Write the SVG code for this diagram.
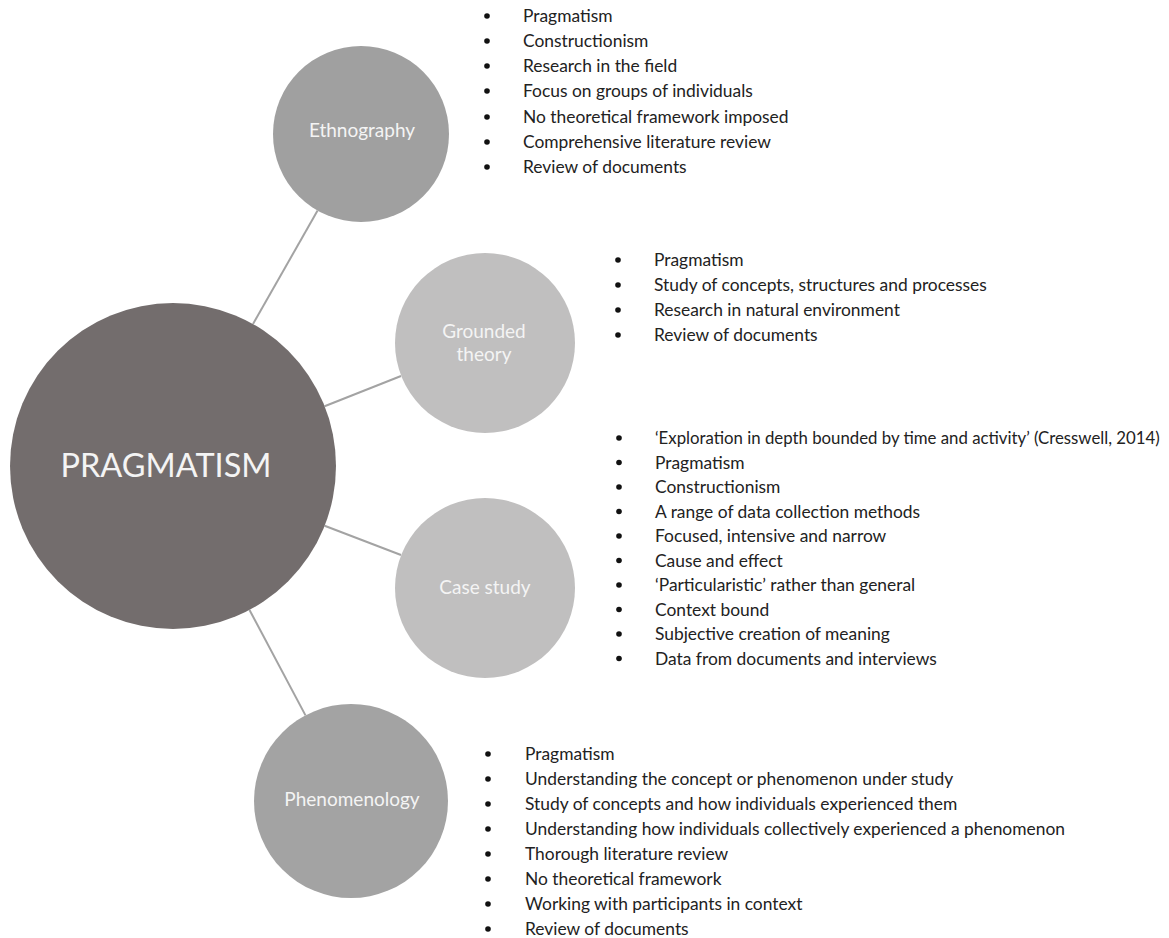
<svg xmlns="http://www.w3.org/2000/svg" width="1169" height="938" viewBox="0 0 1169 938">
<style>
.lbl{font-family:Lato,"Open Sans","Liberation Sans",sans-serif;fill:#f4f4f4;text-anchor:middle;font-size:19px}
.big{font-size:32.5px}
.it{font-family:Lato,"Open Sans","Liberation Sans",sans-serif;font-size:17.4px;fill:#222}
.sm{font-size:16.8px}
.bl{fill:#111}
.con{stroke:#a3a3a3;stroke-width:2;fill:none}
</style>
<rect width="1169" height="938" fill="#fff"/>
<g id="connectors">
<line class="con" x1="253" y1="324" x2="317.6" y2="210.6"/>
<line class="con" x1="324.6" y1="406.2" x2="401" y2="376"/>
<line class="con" x1="324.6" y1="525.8" x2="401" y2="555"/>
<line class="con" x1="249.5" y1="610" x2="305.5" y2="715.4"/>
</g>
<g id="pragmatism">
<circle cx="173" cy="466" r="163" fill="#736d6d"/>
<text class="lbl big" x="166" y="477">PRAGMATISM</text>
</g>
<g id="ethnography">
<circle cx="361" cy="134" r="88" fill="#a0a0a0"/>
<text class="lbl" x="362" y="137">Ethnography</text>
</g>
<g id="grounded-theory">
<circle cx="485" cy="343" r="90" fill="#c0bfbf"/>
<text class="lbl" x="484" y="338">Grounded</text>
<text class="lbl" x="484" y="361">theory</text>
</g>
<g id="case-study">
<circle cx="485" cy="588" r="90" fill="#c0bfbf"/>
<text class="lbl" x="485" y="594">Case study</text>
</g>
<g id="phenomenology">
<circle cx="351" cy="801" r="97" fill="#a3a3a3"/>
<text class="lbl" x="352" y="806">Phenomenology</text>
</g>
<g id="ethnography-list">
<circle class="bl" cx="487" cy="16" r="2.8"/><text class="it" x="523" y="22">Pragmatism</text>
<circle class="bl" cx="487" cy="41" r="2.8"/><text class="it" x="523" y="47">Constructionism</text>
<circle class="bl" cx="487" cy="66" r="2.8"/><text class="it" x="523" y="72">Research in the field</text>
<circle class="bl" cx="487" cy="91" r="2.8"/><text class="it" x="523" y="97">Focus on groups of individuals</text>
<circle class="bl" cx="487" cy="117" r="2.8"/><text class="it" x="523" y="123">No theoretical framework imposed</text>
<circle class="bl" cx="487" cy="142" r="2.8"/><text class="it" x="523" y="148">Comprehensive literature review</text>
<circle class="bl" cx="487" cy="167" r="2.8"/><text class="it" x="523" y="173">Review of documents</text>
</g>
<g id="grounded-list">
<circle class="bl" cx="618" cy="260" r="2.8"/><text class="it" x="654" y="266">Pragmatism</text>
<circle class="bl" cx="618" cy="285" r="2.8"/><text class="it" x="654" y="291">Study of concepts, structures and processes</text>
<circle class="bl" cx="618" cy="310" r="2.8"/><text class="it" x="654" y="316">Research in natural environment</text>
<circle class="bl" cx="618" cy="335" r="2.8"/><text class="it" x="654" y="341">Review of documents</text>
</g>
<g id="case-list">
<circle class="bl" cx="619" cy="438" r="2.8"/><text class="it sm" x="655" y="444">‘Exploration in depth bounded by time and activity’ (Cresswell, 2014)</text>
<circle class="bl" cx="619" cy="462.5" r="2.8"/><text class="it" x="655" y="468.5">Pragmatism</text>
<circle class="bl" cx="619" cy="487" r="2.8"/><text class="it" x="655" y="493">Constructionism</text>
<circle class="bl" cx="619" cy="511.5" r="2.8"/><text class="it" x="655" y="517.5">A range of data collection methods</text>
<circle class="bl" cx="619" cy="536" r="2.8"/><text class="it" x="655" y="542">Focused, intensive and narrow</text>
<circle class="bl" cx="619" cy="560.5" r="2.8"/><text class="it" x="655" y="566.5">Cause and effect</text>
<circle class="bl" cx="619" cy="585" r="2.8"/><text class="it" x="655" y="591">‘Particularistic’ rather than general</text>
<circle class="bl" cx="619" cy="609.5" r="2.8"/><text class="it" x="655" y="615.5">Context bound</text>
<circle class="bl" cx="619" cy="634" r="2.8"/><text class="it" x="655" y="640">Subjective creation of meaning</text>
<circle class="bl" cx="619" cy="658.5" r="2.8"/><text class="it" x="655" y="664.5">Data from documents and interviews</text>
</g>
<g id="phenomenology-list">
<circle class="bl" cx="488" cy="754" r="2.8"/><text class="it" x="525" y="760">Pragmatism</text>
<circle class="bl" cx="488" cy="779" r="2.8"/><text class="it" x="525" y="785">Understanding the concept or phenomenon under study</text>
<circle class="bl" cx="488" cy="804" r="2.8"/><text class="it" x="525" y="810">Study of concepts and how individuals experienced them</text>
<circle class="bl" cx="488" cy="829" r="2.8"/><text class="it" x="525" y="835">Understanding how individuals collectively experienced a phenomenon</text>
<circle class="bl" cx="488" cy="854" r="2.8"/><text class="it" x="525" y="860">Thorough literature review</text>
<circle class="bl" cx="488" cy="879" r="2.8"/><text class="it" x="525" y="885">No theoretical framework</text>
<circle class="bl" cx="488" cy="904" r="2.8"/><text class="it" x="525" y="910">Working with participants in context</text>
<circle class="bl" cx="488" cy="929" r="2.8"/><text class="it" x="525" y="935">Review of documents</text>
</g>
</svg>
